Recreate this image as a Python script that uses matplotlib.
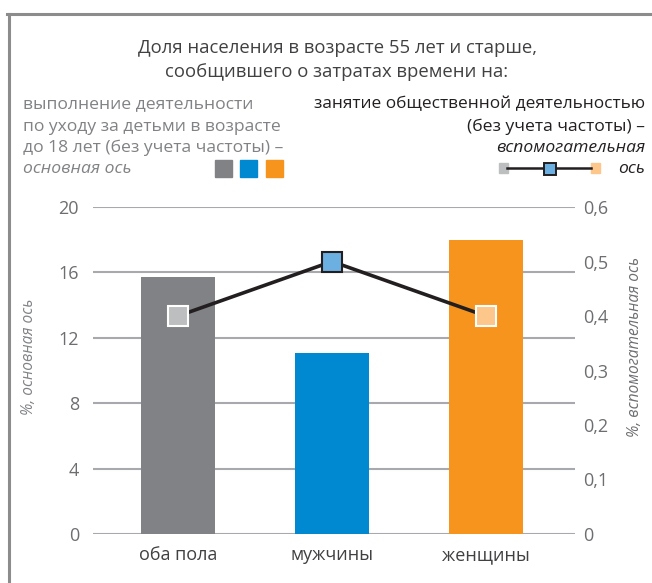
import matplotlib
matplotlib.use("Agg")
import matplotlib.pyplot as plt
from matplotlib.lines import Line2D
from matplotlib.patches import Rectangle

categories = ["оба пола", "мужчины", "женщины"]
childcare = [15.7, 11.1, 18.0]          # primary axis, %
social = [0.4, 0.5, 0.4]                # secondary axis, %
left_ticks = [0, 4, 8, 12, 16, 20]
right_ticks = [0, 0.1, 0.2, 0.3, 0.4, 0.5, 0.6]
right_tick_labels = ["0", "0,1", "0,2", "0,3", "0,4", "0,5", "0,6"]

bar_colors = ["#808285", "#0088d1", "#f7941d"]
marker_faces = ["#bcbec0", "#6cb0e2", "#fdc68a"]
marker_edges = ["white", "#231f20", "white"]

plt.rcParams['font.family'] = ['Open Sans', 'DejaVu Sans']

W, H = 652, 583
fig = plt.figure(figsize=(W / 100, H / 100), dpi=100)

def fx(px):
    return px / W

def fy(py):
    return 1 - py / H

ax = fig.add_axes([fx(93), fy(534), fx(575) - fx(93), fy(207) - fy(534)])
x = list(range(len(categories)))
ax.bar(x, childcare, width=0.485, color=bar_colors, zorder=2)
ax.set_ylim(0, 20)
ax.set_xlim(-0.552, 2.578)
ax.set_yticks(left_ticks)
ax.set_yticklabels([str(t) for t in left_ticks], fontsize=13, color="#6d6e71")
ax.set_xticks(x)
ax.set_xticklabels(categories, fontsize=13, color="#414042")
ax.tick_params(axis="y", length=0, pad=10)
ax.tick_params(axis="x", length=0, pad=9)
for s in ax.spines.values():
    s.set_visible(False)
ax.grid(axis="y", color="#a7a9ac", linewidth=1.5, zorder=0)
ax.set_axisbelow(True)

ax2 = ax.twinx()
ax2.set_ylim(0, 0.6)
ax2.set_yticks(right_ticks)
ax2.set_yticklabels(right_tick_labels, fontsize=13, color="#6d6e71")
ax2.tick_params(axis="y", length=0, pad=6)
for s in ax2.spines.values():
    s.set_visible(False)
ax2.plot(x, social, color="#231f20", linewidth=2.6, zorder=3)
for xi, v, fc, ec in zip(x, social, marker_faces, marker_edges):
    ax2.plot([xi], [v], marker="s", markersize=14, markerfacecolor=fc,
             markeredgecolor=ec, markeredgewidth=1.5, zorder=4, linestyle="none")

# axis titles
fig.text(fx(29), fy(357), "%, основная ось", rotation=90, ha="center", va="center",
         fontsize=11.2, color="#808285", style="italic")
fig.text(fx(635), fy(347), "%, вспомогательная ось", rotation=90, ha="center", va="center",
         fontsize=11.2, color="#6d6e71", style="italic")

# title
fig.text(fx(337), fy(48), "Доля населения в возрасте 55 лет и старше,", ha="center", va="center",
         fontsize=13.3, color="#414042")
fig.text(fx(337), fy(72), "сообщившего о затратах времени на:", ha="center", va="center",
         fontsize=13.3, color="#414042")

# left legend
left_lines = ["выполнение деятельности", "по уходу за детьми в возрасте",
              "до 18 лет (без учета частоты) –"]
for i, yy in zip(range(3), [104, 127, 148]):
    fig.text(fx(23), fy(yy), left_lines[i], ha="left", va="center", fontsize=12.6, color="#808285")
fig.text(fx(23), fy(169), "основная ось", ha="left", va="center", fontsize=12.6,
         color="#808285", style="italic")
for px0, c in zip([215, 240, 266], bar_colors):
    fig.patches.append(Rectangle((fx(px0), fy(177)), fx(17), fy(160) - fy(177),
                                 transform=fig.transFigure, color=c, figure=fig))

# right legend
fig.text(fx(645), fy(104), "занятие общественной деятельностью", ha="right", va="center",
         fontsize=12.4, color="#231f20")
fig.text(fx(645), fy(127), "(без учета частоты) –", ha="right", va="center",
         fontsize=12.6, color="#231f20")
fig.text(fx(645), fy(148), "вспомогательная", ha="right", va="center",
         fontsize=12.6, color="#231f20", style="italic")
fig.text(fx(645), fy(169), "ось", ha="right", va="center",
         fontsize=12.6, color="#231f20", style="italic")
fig.lines.append(Line2D([fx(507), fx(591)], [fy(168), fy(168)], transform=fig.transFigure,
                        color="#231f20", linewidth=1.8))
fig.patches.append(Rectangle((fx(499), fy(173)), fx(9), fy(163) - fy(173),
                             transform=fig.transFigure, color=marker_faces[0], figure=fig))
fig.patches.append(Rectangle((fx(591), fy(173)), fx(9), fy(163) - fy(173),
                             transform=fig.transFigure, color=marker_faces[2], figure=fig))
fig.lines.append(Line2D([fx(549.5)], [fy(168.5)], transform=fig.transFigure, marker="s",
                        markersize=9, markerfacecolor=marker_faces[1],
                        markeredgecolor="#231f20", markeredgewidth=1.4, linestyle="none"))

# frame
fig.lines.append(Line2D([fx(8.5), fx(8.5)], [fy(14), 0], transform=fig.transFigure,
                        color="#8c8c8c", linewidth=2.2))
fig.lines.append(Line2D([fx(7), 1], [fy(14), fy(14)], transform=fig.transFigure,
                        color="#8c8c8c", linewidth=2.2))

fig.savefig("out.png", dpi=100)
